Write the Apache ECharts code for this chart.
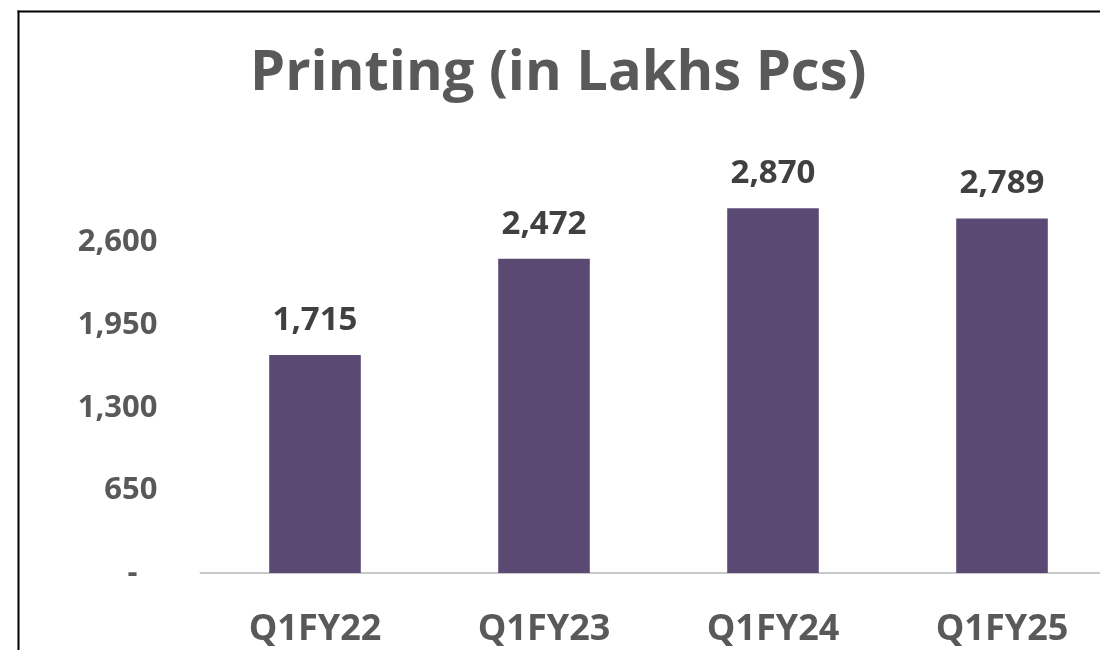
<!DOCTYPE html>
<html>
<head>
<meta charset="utf-8">
<script src="https://cdn.jsdelivr.net/npm/echarts@6/dist/echarts.min.js"></script>
<style>
  html, body { margin: 0; padding: 0; background: #fff; overflow: hidden; }
  #main { width: 1100px; height: 650px; }
</style>
</head>
<body>
<div id="main"></div>
<script>
var quarters = ['Q1FY22', 'Q1FY23', 'Q1FY24', 'Q1FY25'];
var printing = [1715, 2472, 2870, 2789];
var yMax = 3250;
var yStep = 650;

var font = '"Open Sans", "DejaVu Sans", sans-serif';
var barColor = '#5A4A73';
var greyText = '#595959';

var myChart = echarts.init(document.getElementById('main'));

var option = {
    backgroundColor: '#fff',
    animation: false,
    title: {
        text: 'Printing (in Lakhs Pcs)',
        left: 245,
        top: 41,
        textStyle: {
            fontFamily: font,
            fontWeight: 'bold',
            fontSize: 56,
            color: greyText
        }
    },
    // frame: only left and top edges show in the crop
    graphic: [{
        type: 'line',
        shape: { x1: 18.5, y1: 10.5, x2: 18.5, y2: 660 },
        style: { stroke: '#000', lineWidth: 2 },
        z: 100
    }, {
        type: 'line',
        shape: { x1: 17.5, y1: 11.5, x2: 1110, y2: 11.5 },
        style: { stroke: '#000', lineWidth: 2 },
        z: 100
    }],
    grid: {
        left: 200.5,
        width: 916,
        top: 160,
        bottom: 77,
        outerBoundsMode: 'none',
        containLabel: false
    },
    xAxis: {
        type: 'category',
        data: quarters,
        axisTick: { show: false },
        axisLine: { lineStyle: { color: '#C8C8C8', width: 2 } },
        axisLabel: {
            margin: 39,
            fontFamily: font,
            fontWeight: 'bold',
            fontSize: 36,
            color: greyText
        }
    },
    yAxis: {
        type: 'value',
        min: 0,
        max: yMax,
        interval: yStep,
        splitLine: { show: false },
        axisLine: { show: false },
        axisTick: { show: false },
        axisLabel: {
            margin: 43,
            fontFamily: font,
            fontWeight: 'bold',
            fontSize: 31,
            color: greyText,
            formatter: function (v) {
                if (v === 0) return '{d|-}';
                if (v >= yMax) return '';
                return v.toLocaleString('en-US');
            },
            rich: {
                d: {
                    fontFamily: font,
                    fontWeight: 'bold',
                    fontSize: 31,
                    color: greyText,
                    padding: [0, 20, 0, 0]
                }
            }
        }
    },
    series: [{
        type: 'bar',
        data: printing,
        barWidth: '40%',
        itemStyle: { color: barColor },
        label: {
            show: true,
            position: 'top',
            distance: 18,
            fontFamily: font,
            fontWeight: 'bold',
            fontSize: 33,
            color: '#404040',
            formatter: function (p) {
                return p.value.toLocaleString('en-US');
            }
        }
    }]
};

myChart.setOption(option);
</script>
</body>
</html>
